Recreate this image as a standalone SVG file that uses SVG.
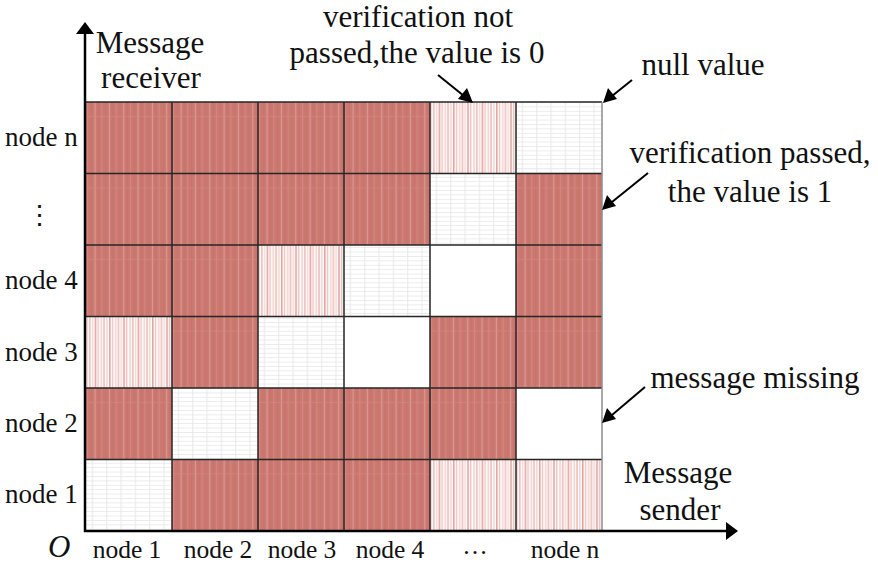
<svg xmlns="http://www.w3.org/2000/svg" width="878" height="566" viewBox="0 0 878 566">
  <style>
    .lbl { font-family: "Liberation Serif", "Times New Roman", serif; fill: #111; }
    .big { font-family: "Liberation Serif", "Times New Roman", serif; font-size: 31px; }
    .row { font-family: "Liberation Serif", "Times New Roman", serif; font-size: 27px; }
    .col { font-family: "Liberation Serif", "Times New Roman", serif; font-size: 25.5px; }
    .axis { stroke: #000; stroke-width: 2.5; fill: none; }
    .lead { stroke: #000; stroke-width: 2; fill: none; }
    .head { fill: #000; }
    .cellline { stroke: #262626; stroke-width: 1.5; fill: none; }
    .pass { fill: url(#passPat); }
    .fail { fill: url(#failPat); }
    .null { fill: url(#nullPat); }
    .miss { fill: #fff; }
  </style>
  <defs>
    <!-- verification passed: red with faint light vertical streaks -->
    <pattern id="passPat" patternUnits="userSpaceOnUse" x="86" y="102" width="14.333" height="71.5">
      <rect width="14.333" height="71.5" fill="#CB7870"/>
      <rect x="1" width="1" height="71.5" fill="#D48880"/>
      <rect x="5" width="1" height="71.5" fill="#C6736B"/>
      <rect x="8.5" width="1.2" height="71.5" fill="#DB9A93"/>
      <rect x="12" width="1" height="71.5" fill="#C77068"/>
      <rect y="14" width="14.333" height="1" fill="#D38A83" opacity="0.6"/>
    </pattern>
    <!-- verification not passed: white with red vertical hatching -->
    <pattern id="failPat" patternUnits="userSpaceOnUse" x="86" y="102" width="14.333" height="71.5">
      <rect width="14.333" height="71.5" fill="#fff"/>
      <rect x="0.5" width="1" height="71.5" fill="#EDB8B3"/>
      <rect x="3.3" width="1" height="71.5" fill="#DE958E"/>
      <rect x="6.1" width="1" height="71.5" fill="#EFC2BE"/>
      <rect x="8.9" width="1.1" height="71.5" fill="#D47A72"/>
      <rect x="11.7" width="1" height="71.5" fill="#E8ABA5"/>
    </pattern>
    <!-- null value: white with a fine light-grey grid -->
    <pattern id="nullPat" patternUnits="userSpaceOnUse" x="86" y="102" width="14.333" height="4.4">
      <rect width="14.333" height="4.4" fill="#fff"/>
      <rect y="0" width="14.333" height="0.8" fill="#E8E8E8"/>
      <rect x="6" width="0.9" height="4.4" fill="#E6E6E6"/>
    </pattern>
  </defs>

  <!-- matrix cells: rows from node n (top) down to node 1 -->
  <g id="cells">
    <g id="row-node-n">
      <rect class="pass" x="86" y="102" width="86" height="71.5"/>
      <rect class="pass" x="172" y="102" width="86" height="71.5"/>
      <rect class="pass" x="258" y="102" width="86" height="71.5"/>
      <rect class="pass" x="344" y="102" width="86" height="71.5"/>
      <rect class="fail" x="430" y="102" width="86" height="71.5"/>
      <rect class="null" x="516" y="102" width="86" height="71.5"/>
    </g>
    <g id="row-dots">
      <rect class="pass" x="86" y="173.5" width="86" height="71.5"/>
      <rect class="pass" x="172" y="173.5" width="86" height="71.5"/>
      <rect class="pass" x="258" y="173.5" width="86" height="71.5"/>
      <rect class="pass" x="344" y="173.5" width="86" height="71.5"/>
      <rect class="null" x="430" y="173.5" width="86" height="71.5"/>
      <rect class="pass" x="516" y="173.5" width="86" height="71.5"/>
    </g>
    <g id="row-node-4">
      <rect class="pass" x="86" y="245" width="86" height="71.5"/>
      <rect class="pass" x="172" y="245" width="86" height="71.5"/>
      <rect class="fail" x="258" y="245" width="86" height="71.5"/>
      <rect class="null" x="344" y="245" width="86" height="71.5"/>
      <rect class="miss" x="430" y="245" width="86" height="71.5"/>
      <rect class="pass" x="516" y="245" width="86" height="71.5"/>
    </g>
    <g id="row-node-3">
      <rect class="fail" x="86" y="316.5" width="86" height="71.5"/>
      <rect class="pass" x="172" y="316.5" width="86" height="71.5"/>
      <rect class="null" x="258" y="316.5" width="86" height="71.5"/>
      <rect class="miss" x="344" y="316.5" width="86" height="71.5"/>
      <rect class="pass" x="430" y="316.5" width="86" height="71.5"/>
      <rect class="pass" x="516" y="316.5" width="86" height="71.5"/>
    </g>
    <g id="row-node-2">
      <rect class="pass" x="86" y="388" width="86" height="71.5"/>
      <rect class="null" x="172" y="388" width="86" height="71.5"/>
      <rect class="pass" x="258" y="388" width="86" height="71.5"/>
      <rect class="pass" x="344" y="388" width="86" height="71.5"/>
      <rect class="pass" x="430" y="388" width="86" height="71.5"/>
      <rect class="miss" x="516" y="388" width="86" height="71.5"/>
    </g>
    <g id="row-node-1">
      <rect class="null" x="86" y="459.5" width="86" height="71.5"/>
      <rect class="pass" x="172" y="459.5" width="86" height="71.5"/>
      <rect class="pass" x="258" y="459.5" width="86" height="71.5"/>
      <rect class="pass" x="344" y="459.5" width="86" height="71.5"/>
      <rect class="fail" x="430" y="459.5" width="86" height="71.5"/>
      <rect class="fail" x="516" y="459.5" width="86" height="71.5"/>
    </g>
  </g>

  <!-- cell borders -->
  <g id="grid-lines" class="cellline">
    <path d="M86 102H602M86 173.5H602M86 245H602M86 316.5H602M86 388H602M86 459.5H602"/>
    <path d="M172 102V531M258 102V531M344 102V531M430 102V531M516 102V531"/>
    <path d="M602 102V531" stroke="#8c8c8c"/>
  </g>

  <!-- axes -->
  <g id="axes">
    <path class="axis" d="M85 532V32"/>
    <polygon class="head" points="85,22 76,34 94,34"/>
    <path class="axis" d="M84 531H728"/>
    <polygon class="head" points="738,531 726,522 726,540"/>
  </g>

  <!-- axis titles and tick labels -->
  <g id="axis-labels" class="lbl">
    <text class="big" x="150" y="53" text-anchor="middle">Message</text>
    <text class="big" x="151" y="88" text-anchor="middle">receiver</text>
    <text class="big" x="678" y="483" text-anchor="middle">Message</text>
    <text class="big" x="680" y="520" text-anchor="middle">sender</text>
    <text class="big" x="48" y="557" font-style="italic">O</text>

    <text class="row" x="5" y="146">node n</text>
    <text class="row" x="26" y="224">⋮</text>
    <text class="row" x="5" y="289">node 4</text>
    <text class="row" x="5" y="361">node 3</text>
    <text class="row" x="5" y="432">node 2</text>
    <text class="row" x="5" y="503">node 1</text>

    <text class="col" x="127" y="558" text-anchor="middle">node 1</text>
    <text class="col" x="218" y="558" text-anchor="middle">node 2</text>
    <text class="col" x="302" y="558" text-anchor="middle">node 3</text>
    <text class="col" x="390" y="558" text-anchor="middle">node 4</text>
    <text class="col" x="475" y="554" text-anchor="middle">…</text>
    <text class="col" x="565" y="558" text-anchor="middle">node n</text>
  </g>

  <!-- legend callouts -->
  <g id="connectors">
    <path class="lead" d="M438 75L464 96"/>
    <polygon class="head" points="473,103 458,99 467,88"/>
    <path class="lead" d="M632 80L612 96"/>
    <polygon class="head" points="603,103 608,88 617,99"/>
    <path class="lead" d="M648 173L612 202"/>
    <polygon class="head" points="602,210 607,195 616,206"/>
    <path class="lead" d="M645 387L612 415"/>
    <polygon class="head" points="602,423 607,408 616,419"/>
  </g>

  <g id="legend-text" class="lbl">
    <text class="big" x="418" y="27" text-anchor="middle">verification not</text>
    <text class="big" x="417" y="63" text-anchor="middle">passed,the value is 0</text>
    <text class="big" x="703" y="75" text-anchor="middle">null value</text>
    <text class="big" x="750" y="163" text-anchor="middle">verification passed,</text>
    <text class="big" x="750" y="202" text-anchor="middle">the value is 1</text>
    <text class="big" x="755" y="388" text-anchor="middle">message missing</text>
  </g>
</svg>
